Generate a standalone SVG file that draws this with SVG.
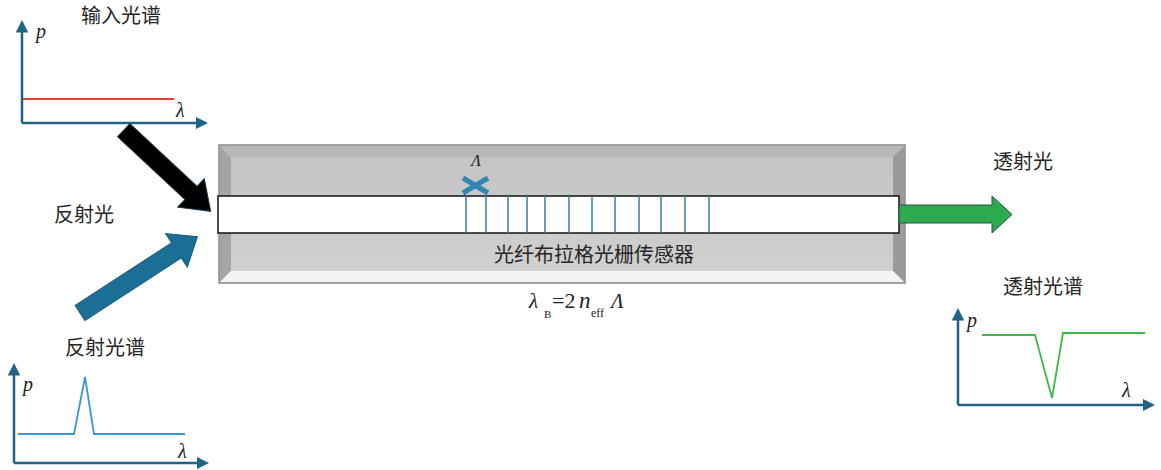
<svg xmlns="http://www.w3.org/2000/svg" width="1161" height="470" viewBox="0 0 1161 470">
<style>
.cjk{font-family:"Noto Sans CJK SC","Noto Sans",sans-serif;font-size:20px;fill:#262626}
.m{font-family:"Liberation Serif",serif;font-style:italic;fill:#222}
.r{font-family:"Liberation Serif",serif;fill:#222}
.axis{stroke:#1F6485;stroke-width:2.5;fill:none}
.grat{stroke:#3A7FA0;stroke-width:1.5}
</style>
<defs>
<marker id="ah" viewBox="0 0 10 10" refX="2" refY="5" markerWidth="5" markerHeight="5" markerUnits="strokeWidth" orient="auto">
<path d="M0,0 L10,5 L0,10 z" fill="#1F6485"/>
</marker>
<linearGradient id="face" x1="0" y1="0" x2="0" y2="1">
<stop offset="0" stop-color="#C4C4C4"/>
<stop offset="1" stop-color="#D0D0D0"/>
</linearGradient>
</defs>

<g id="input-spectrum">
<text class="cjk" x="121" y="23" text-anchor="middle">输入光谱</text>
<path class="axis" d="M22,123 V30" marker-end="url(#ah)"/>
<path class="axis" d="M22,123 H198" marker-end="url(#ah)"/>
<line x1="23" y1="99" x2="174" y2="99" stroke="#E8402A" stroke-width="1.8"/>
<text class="m" x="36" y="38" font-size="20">p</text>
<text class="m" x="176" y="117" font-size="20">λ</text>
</g>

<g id="reflected-spectrum">
<text class="cjk" x="105" y="355" text-anchor="middle">反射光谱</text>
<path class="axis" d="M14,463 V373" marker-end="url(#ah)"/>
<path class="axis" d="M14,463 H199" marker-end="url(#ah)"/>
<polyline points="18,434 74,434 85,377 94,434 185,434" fill="none" stroke="#3A98D0" stroke-width="1.8"/>
<text class="m" x="23" y="391" font-size="20">p</text>
<text class="m" x="178" y="458" font-size="20">λ</text>
</g>

<g id="transmitted-spectrum">
<text class="cjk" x="1043" y="294" text-anchor="middle">透射光谱</text>
<path class="axis" d="M958,405 V318" marker-end="url(#ah)"/>
<path class="axis" d="M958,405 H1145" marker-end="url(#ah)"/>
<polyline points="982,335 1035,335 1052,398 1063,333 1145,333" fill="none" stroke="#3DB84A" stroke-width="1.8"/>
<text class="m" x="967" y="327" font-size="20">p</text>
<text class="m" x="1122" y="397" font-size="20">λ</text>
</g>

<g id="sensor">
<rect x="219" y="145" width="686" height="138" fill="#C9C9C9" stroke="#8A8A8A" stroke-width="1.5"/>
<polygon points="220,146 904,146 893,157 231,157" fill="#B8B8B8"/>
<polygon points="220,146 231,157 231,271 220,282" fill="#A5A5A5"/>
<polygon points="904,146 904,282 893,271 893,157" fill="#9A9A9A"/>
<polygon points="220,282 231,271 893,271 904,282" fill="#F4F4F4"/>
<rect x="231" y="157" width="662" height="114" fill="url(#face)"/>
<rect x="218" y="196" width="681" height="37" fill="#FFFFFF" stroke="#111" stroke-width="1.5"/>
<g class="grat">
<line x1="466" y1="196" x2="466" y2="233"/>
<line x1="486" y1="196" x2="486" y2="233"/>
<line x1="508" y1="196" x2="508" y2="233"/>
<line x1="527" y1="196" x2="527" y2="233"/>
<line x1="545" y1="196" x2="545" y2="233"/>
<line x1="569" y1="196" x2="569" y2="233"/>
<line x1="592" y1="196" x2="592" y2="233"/>
<line x1="615" y1="196" x2="615" y2="233"/>
<line x1="639" y1="196" x2="639" y2="233"/>
<line x1="661" y1="196" x2="661" y2="233"/>
<line x1="685" y1="196" x2="685" y2="233"/>
<line x1="709" y1="196" x2="709" y2="233"/>
</g>
<g stroke="#2F86B4" stroke-width="5">
<line x1="463" y1="178" x2="488" y2="193"/>
<line x1="463" y1="193" x2="488" y2="178"/>
</g>
<text class="m" x="476" y="166" font-size="16" text-anchor="middle">Λ</text>
<text class="cjk" x="594" y="262" text-anchor="middle" font-size="21">光纤布拉格光栅传感器</text>
</g>

<g id="formula">
<text class="m" x="529" y="308" font-size="21">λ</text>
<text class="r" x="544" y="318" font-size="11">B</text>
<text class="r" x="552" y="308" font-size="22">=2</text>
<text class="m" x="579" y="308" font-size="23">n</text>
<text class="r" x="591" y="317" font-size="12">eff</text>
<text class="m" x="611" y="308" font-size="21">Λ</text>
</g>

<g id="labels">
<text class="cjk" x="84" y="222" text-anchor="middle">反射光</text>
<text class="cjk" x="1023" y="169" text-anchor="middle">透射光</text>
</g>

<g id="connectors">
<polygon id="input-arrow" points="-10,-9 82,-9 82,-19.5 109,0 82,19.5 82,9 -10,9" transform="translate(131,137) rotate(43)" fill="#000" stroke="#1A3A4A" stroke-width="1"/>
<polygon id="reflect-arrow" points="0,-9 115,-9 115,-20 140,0 115,20 115,9 0,9" transform="translate(80,313) rotate(-33)" fill="#1B6E96" stroke="#1B5A7A" stroke-width="1"/>
<polygon id="transmit-arrow" points="899,205 992,205 992,196 1012,214.5 992,233 992,223 899,223" fill="#2BAA4E" stroke="#2F4F4F" stroke-width="1"/>
</g>
</svg>
